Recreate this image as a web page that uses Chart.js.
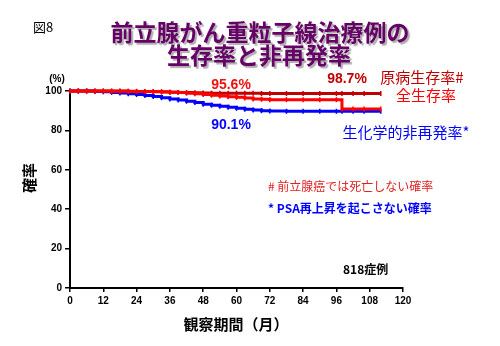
<!DOCTYPE html>
<html>
<head>
<meta charset="utf-8">
<script src="https://cdn.jsdelivr.net/npm/chart.js@4"></script>
<style>
  html, body { margin: 0; padding: 0; background: #fff; }
  #wrap { width: 500px; height: 346px; position: relative; }
</style>
</head>
<body>
<div id="wrap"><canvas id="chart"></canvas></div>
<script>
const months = [0, 3, 6, 9, 12, 15, 18, 21, 24, 27, 30, 33, 36, 39, 42, 45, 48, 51, 54, 57, 60, 63, 66, 69, 72, 78, 84, 90, 96, 98, 102, 106, 112];
const causeSpecific = [100, 100, 100, 100, 100, 100, 100, 99.9, 99.8, 99.7, 99.6, 99.5, 99.4, 99.3, 99.2, 99.1, 99.0, 98.9, 98.9, 98.9, 98.9, 98.8, 98.8, 98.7, 98.7, 98.7, 98.7, 98.7, 98.7, 98.7, 98.7, 98.7, 98.7];
const overall = [100, 100, 100, 100, 100, 99.9, 99.9, 99.8, 99.8, 99.7, 99.7, 99.6, 99.4, 99.2, 98.9, 98.6, 98.2, 97.9, 97.5, 97.1, 96.8, 96.4, 96.0, 95.8, 95.6, 95.6, 95.6, 95.6, 95.6, 90.9, 90.9, 90.9, 90.9];
const psaFree = [100, 100, 100, 99.8, 99.6, 99.3, 99.0, 98.6, 98.2, 97.7, 97.2, 96.6, 96.0, 95.4, 94.8, 94.1, 93.3, 92.8, 92.2, 91.7, 91.2, 90.7, 90.3, 90.0, 89.8, 89.7, 89.7, 89.7, 89.7, 89.7, 89.7, 89.7, 89.7];
const xTicks = [0, 12, 24, 36, 48, 60, 72, 84, 96, 108, 120];
const yTicks = [0, 20, 40, 60, 80, 100];

const tickFont = { family: '"Liberation Sans", Arial, sans-serif', size: 10, weight: 'bold' };
const jp = '"Noto Sans CJK JP", sans-serif';

function series(label, values, color) {
    return {
        label: label,
        data: months.map((m, i) => ({ x: m, y: values[i] })),
        borderColor: color,
        backgroundColor: color,
        pointBorderColor: color,
        borderWidth: 3,
        stepped: true,
        pointStyle: 'line',
        rotation: 90,
        pointRadius: 2.5,
        pointBorderWidth: 1.5,
        clip: false
    };
}

// Titles, annotations and axis labels
const textPlugin = {
    id: 'texts',
    afterDraw(chart) {
        const ctx = chart.ctx;
        ctx.save();
        ctx.textBaseline = 'middle';

        ctx.fillStyle = '#000';
        ctx.font = '13px ' + jp;
        ctx.textAlign = 'left';
        ctx.fillText('図8', 33, 27);

        // main title with shadow
        ctx.textAlign = 'center';
        ctx.font = 'bold 23px ' + jp;
        ctx.shadowColor = 'rgba(140,140,140,0.7)';
        ctx.shadowOffsetX = 2;
        ctx.shadowOffsetY = 2;
        ctx.shadowBlur = 1;
        ctx.fillStyle = '#660066';
        ctx.fillText('前立腺がん重粒子線治療例の', 260, 32);
        ctx.fillText('生存率と非再発率', 259, 55);
        ctx.shadowColor = 'transparent';

        ctx.fillStyle = '#000';
        ctx.font = 'bold 10px "Liberation Sans", Arial, sans-serif';
        ctx.fillText('(%)', 57, 79);

        ctx.font = 'bold 14px "Liberation Sans", Arial, sans-serif';
        ctx.fillStyle = '#ee1111';
        ctx.fillText('95.6%', 231, 85);
        ctx.fillStyle = '#c00000';
        ctx.fillText('98.7%', 347, 79);
        ctx.fillStyle = '#0000ff';
        ctx.fillText('90.1%', 231, 125);

        ctx.font = '15px ' + jp;
        ctx.fillStyle = '#c00000';
        ctx.fillText('原病生存率#', 422, 77);
        ctx.fillStyle = '#ff0000';
        ctx.fillText('全生存率', 426, 95);
        ctx.fillStyle = '#0000ff';
        ctx.fillText('生化学的非再発率*', 406, 132);

        ctx.textAlign = 'left';
        ctx.font = '12px ' + jp;
        ctx.fillStyle = '#e02020';
        ctx.fillText('# 前立腺癌では死亡しない確率', 268, 186);
        ctx.font = 'bold 12px ' + jp;
        ctx.fillStyle = '#0000ff';
        ctx.fillText('* PSA再上昇を起こさない確率', 268, 208);
        ctx.fillStyle = '#000';
        ctx.fillText('818症例', 343, 269);

        ctx.textAlign = 'center';
        ctx.font = 'bold 15px ' + jp;
        ctx.fillText('観察期間（月）', 236, 324);

        ctx.translate(29, 178);
        ctx.rotate(-Math.PI / 2);
        ctx.fillText('確率', 0, 0);
        ctx.restore();
    }
};

new Chart(document.getElementById('chart'), {
    type: 'line',
    data: {
        datasets: [
            series('全生存率', overall, '#ff0000'),
            series('原病生存率', causeSpecific, '#c00000'),
            series('生化学的非再発率', psaFree, '#0000ff')
        ]
    },
    options: {
        responsive: true,
        maintainAspectRatio: false,
        animation: false,
        layout: { padding: { top: 91, right: 97, left: 0, bottom: 0 } },
        plugins: { legend: { display: false }, tooltip: { enabled: false } },
        scales: {
            x: {
                type: 'linear',
                min: 0,
                max: 120,
                afterFit: s => { s.height = 58; },
                afterBuildTicks: s => { s.ticks = xTicks.map(v => ({ value: v })); },
                grid: { drawOnChartArea: false, drawTicks: true, tickLength: 4, color: '#000', lineWidth: 1.5 },
                border: { display: true, color: '#000', width: 2 },
                ticks: { color: '#000', font: tickFont, padding: 3, maxRotation: 0 }
            },
            y: {
                min: 0,
                max: 100,
                afterFit: s => { s.width = 70; },
                afterBuildTicks: s => { s.ticks = yTicks.map(v => ({ value: v })); },
                grid: { drawOnChartArea: false, drawTicks: true, tickLength: 5, color: '#000', lineWidth: 1.5 },
                border: { display: true, color: '#000', width: 2 },
                ticks: { color: '#000', font: tickFont, padding: 3 }
            }
        }
    },
    plugins: [textPlugin]
});
</script>
</body>
</html>
